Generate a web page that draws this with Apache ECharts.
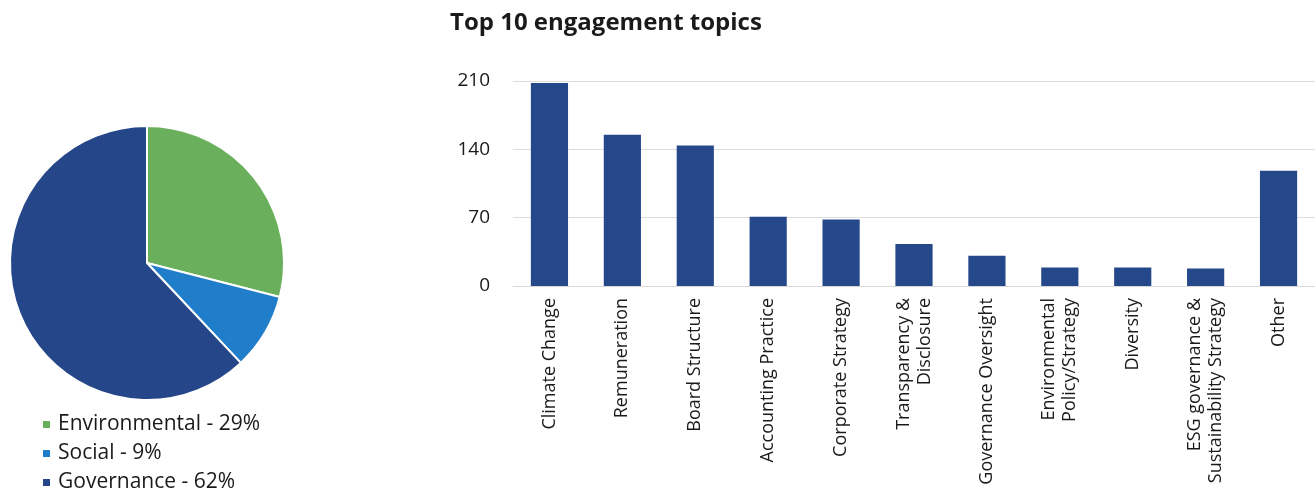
<!DOCTYPE html>
<html><head><meta charset="utf-8">
<script src="https://cdn.jsdelivr.net/npm/echarts@6/dist/echarts.min.js"></script>
<style>html,body{margin:0;padding:0;background:#fff}#c{width:1315px;height:490px}</style>
</head><body><div id="c"></div>
<script>
// ---- data ----
const pieNames = ['Environmental', 'Social', 'Governance'];
const pieValues = [29, 9, 62];
const categories = ['Climate Change', 'Remuneration', 'Board Structure', 'Accounting Practice', 'Corporate Strategy', 'Transparency &\nDisclosure', 'Governance Oversight', 'Environmental\nPolicy/Strategy', 'Diversity', 'ESG governance &\nSustainability Strategy', 'Other'];
const values = [208, 155, 144, 71, 68, 43, 31, 19, 19, 18, 118];
const yTickLabels = [0, 70, 140, 210];
const chartTitle = 'Top 10 engagement topics';

// ---- styles ----
const pieColors = ['#6aaf5b', '#1f7dc9', '#25478a'];
const barColor = '#25488a';
const fontFam = '"Open Sans", "Noto Sans", sans-serif';
const legendTops = [414, 443, 472];

const legends = pieNames.map((n, i) => ({
  data: [n],
  orient: 'horizontal', left: 41, top: legendTops[i], padding: 0,
  icon: 'rect', itemWidth: 9, itemHeight: 9,
  formatter: function (name) { return name + ' - ' + pieValues[pieNames.indexOf(name)] + '%'; },
  textStyle: {fontFamily: fontFam, fontSize: 21, lineHeight: 21, color: '#1a1a1a', padding: [0, 0, 0, 2]}
}));

const chart = echarts.init(document.getElementById('c'), null, {renderer: 'canvas'});
chart.setOption({
  animation: false,
  title: {
    text: chartTitle, left: 450, top: 11, padding: 0,
    textStyle: {fontFamily: fontFam, fontSize: 24, fontWeight: 'bold', color: '#1a1a1a'}
  },
  legend: legends,
  grid: {left: 513, right: -16, top: 81, bottom: 490 - 286, containLabel: false},
  xAxis: {
    type: 'category', data: categories,
    axisLine: {show: true, lineStyle: {color: '#d9d9d9'}},
    axisTick: {show: false},
    axisLabel: {interval: 0, rotate: 90, margin: 12, fontFamily: fontFam, fontSize: 18, color: '#1a1a1a', lineHeight: 21}
  },
  yAxis: {
    type: 'value', min: yTickLabels[0], max: yTickLabels[yTickLabels.length - 1], interval: yTickLabels[1] - yTickLabels[0],
    axisLine: {show: false}, axisTick: {show: false},
    splitLine: {lineStyle: {color: '#dcdcdc', width: 1}},
    axisLabel: {margin: 23, fontFamily: fontFam, fontSize: 19, color: '#1a1a1a'}
  },
  series: [
    {
      type: 'pie', name: 'Share',
      center: [147, 263], radius: 137,
      startAngle: 90, clockwise: true,
      label: {show: false}, labelLine: {show: false},
      itemStyle: {borderColor: '#fff', borderWidth: 2},
      data: pieNames.map((n, i) => ({name: n, value: pieValues[i], itemStyle: {color: pieColors[i]}}))
    },
    {
      type: 'bar', name: 'Topics', data: values,
      barWidth: '51%',
      itemStyle: {color: barColor}
    }
  ]
});
</script>
</body></html>
